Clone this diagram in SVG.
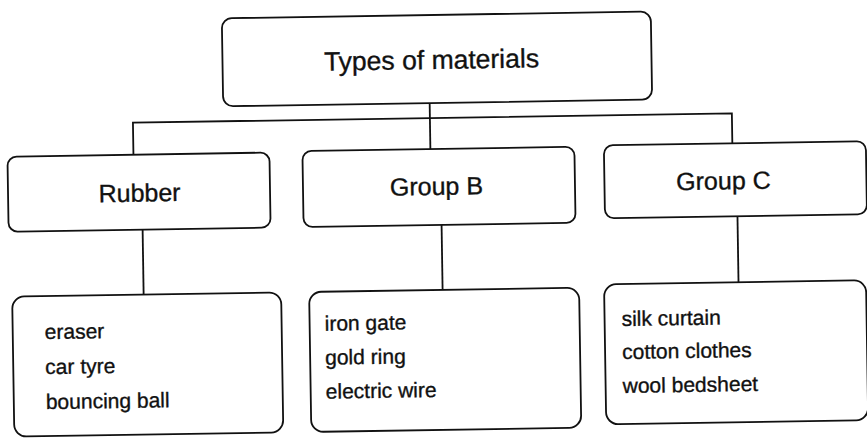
<svg xmlns="http://www.w3.org/2000/svg" width="867" height="441" viewBox="0 0 867 441">
<style>
.box{fill:#fff;stroke:#111;stroke-width:1.8}
.ln{fill:none;stroke:#111;stroke-width:1.8}
.t{font-family:"Liberation Sans",Arial,sans-serif;fill:#111;stroke:#111;stroke-width:0.35}
.h{font-size:25px;text-anchor:middle}
.title{font-size:26.5px;text-anchor:middle}
.li{font-size:21px}
</style>
<rect width="867" height="441" fill="#fff"/>
<g transform="rotate(-0.9 433 220)">
<g id="connectors">
<path class="ln" d="M431.5 103 V149"/>
<path class="ln" d="M134.5 150 V118 H733.5 V148"/>
<path class="ln" d="M142.5 225 V290"/>
<path class="ln" d="M441.5 225 V290"/>
<path class="ln" d="M737.5 221 V287"/>
</g>
<g id="root">
<rect class="box" x="225" y="15" width="429" height="88" rx="10"/>
<text class="t title" x="434" y="69">Types of materials</text>
</g>
<g id="rubber">
<rect class="box" x="8.5" y="150" width="262" height="75" rx="9"/>
<text class="t h" x="140" y="197">Rubber</text>
</g>
<g id="groupB">
<rect class="box" x="303.5" y="149" width="272" height="76" rx="9"/>
<text class="t h" x="437" y="195">Group B</text>
</g>
<g id="groupC">
<rect class="box" x="605" y="148" width="262" height="73" rx="9"/>
<text class="t h" x="724" y="194">Group C</text>
</g>
<g id="rubberList">
<rect class="box" x="11" y="290" width="269" height="140" rx="12"/>
<text class="t li" x="43" y="333">eraser</text>
<text class="t li" x="43" y="368">car tyre</text>
<text class="t li" x="43" y="403">bouncing ball</text>
</g>
<g id="groupBList">
<rect class="box" x="308" y="290" width="270" height="140" rx="12"/>
<text class="t li" x="323" y="329">iron gate</text>
<text class="t li" x="323" y="363">gold ring</text>
<text class="t li" x="323" y="397">electric wire</text>
</g>
<g id="groupCList">
<rect class="box" x="603" y="287" width="262" height="140" rx="12"/>
<text class="t li" x="620" y="329">silk curtain</text>
<text class="t li" x="620" y="362">cotton clothes</text>
<text class="t li" x="620" y="396">wool bedsheet</text>
</g>
</g>
</svg>
